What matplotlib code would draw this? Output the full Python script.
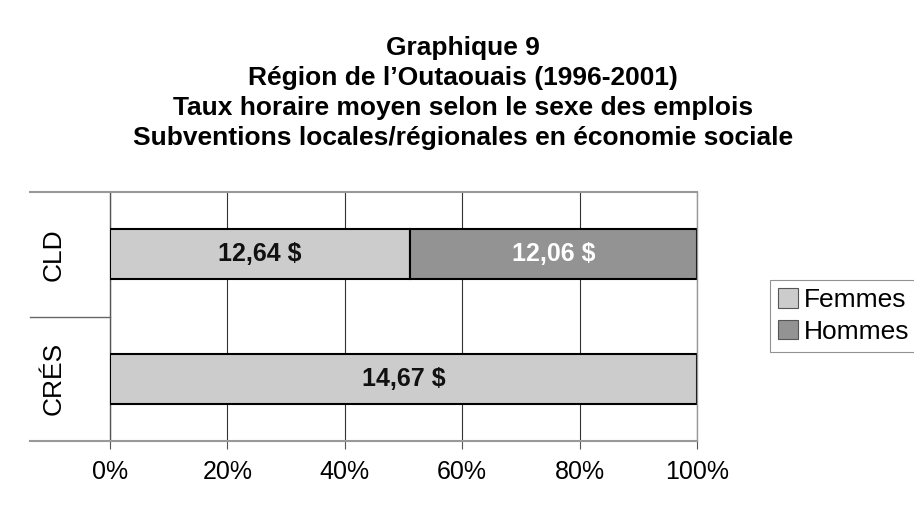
import numpy as np
import matplotlib.pyplot as plt
from matplotlib.lines import Line2D

categories = ['CLD', 'CRÉS']
femmes = [12.64, 14.67]
hommes = [12.06, 0.0]
series_names = ['Femmes', 'Hommes']
ticks = [0, 20, 40, 60, 80, 100]
tick_labels = ['0%', '20%', '40%', '60%', '80%', '100%']
title_lines = ['Graphique 9',
               'Région de l\u2019Outaouais (1996-2001)',
               'Taux horaire moyen selon le sexe des emplois',
               'Subventions locales/régionales en économie sociale']

plt.rcParams['font.family'] = ['Liberation Sans', 'DejaVu Sans']

W, H = 914, 508
fig = plt.figure(figsize=(W / 100, H / 100), dpi=100)
ax = fig.add_axes([110 / W, 1 - 441 / H, 587 / W, 249 / H])

f = np.array(femmes)
h = np.array(hommes)
tot = f + h
f_pct = f / tot * 100
h_pct = h / tot * 100
y = np.arange(len(categories))

ax.set_axisbelow(True)
ax.barh(y, f_pct, height=0.4, color='#cccccc', edgecolor='black', linewidth=1.5,
        label=series_names[0], zorder=3)
mask = h > 0
ax.barh(y[mask], h_pct[mask], left=f_pct[mask], height=0.4, color='#939393',
        edgecolor='black', linewidth=1.5, label=series_names[1], zorder=3)

for i in range(len(categories)):
    ax.text(f_pct[i] / 2, y[i], f'{femmes[i]:.2f} $'.replace('.', ','),
            ha='center', va='center', fontsize=18, fontweight='bold',
            color='#111111', zorder=4)
    if h[i] > 0:
        ax.text(f_pct[i] + h_pct[i] / 2, y[i], f'{hommes[i]:.2f} $'.replace('.', ','),
                ha='center', va='center', fontsize=18, fontweight='bold',
                color='white', zorder=4)

ax.set_xlim(0, 100)
ax.set_ylim(len(categories) - 0.5, -0.5)
ax.set_xticks(ticks)
ax.set_xticklabels(tick_labels, fontsize=18)
ax.set_yticks(y)
ax.set_yticklabels(categories, fontsize=19, rotation=90, va='center')
ax.tick_params(axis='y', length=0, pad=32)
ax.tick_params(axis='x', length=6, width=0.8, color='#555555', pad=8)
ax.grid(axis='x', color='#333333', linewidth=0.8)

for s in ['top', 'bottom', 'right']:
    ax.spines[s].set_visible(False)
ax.spines['left'].set_color('#555555')
ax.spines['left'].set_linewidth(1.0)

# extended horizontal frame lines and category separator
x0 = -80 / 587
for yy in [0, 1]:
    ax.add_line(Line2D([x0, 1], [yy, yy], transform=ax.transAxes, color='#999999',
                       linewidth=1.5, clip_on=False, zorder=5))
ax.add_line(Line2D([x0, 0], [0.5, 0.5], transform=ax.transAxes, color='#666666',
                   linewidth=1.0, clip_on=False, zorder=5))
ax.add_line(Line2D([1, 1], [0, 1], transform=ax.transAxes, color='#999999',
                   linewidth=1.0, clip_on=False, zorder=5))

leg = ax.legend(loc='center left', bbox_to_anchor=(770 / W, 1 - 316 / H),
                bbox_transform=fig.transFigure, fontsize=19, frameon=True,
                fancybox=False, edgecolor='#777777', handlelength=0.75,
                handleheight=0.75, handletextpad=0.22, borderpad=0.3,
                labelspacing=0.3, borderaxespad=0)
leg.get_frame().set_linewidth(0.8)
for p in leg.get_patches():
    p.set_linewidth(0.8)
    p.set_edgecolor('#555555')

fig.text(463 / W, 1 - 93 / H, '\n'.join(title_lines), ha='center', va='center',
         fontsize=19, fontweight='bold', linespacing=1.32)

fig.savefig('out.png', dpi=100)
